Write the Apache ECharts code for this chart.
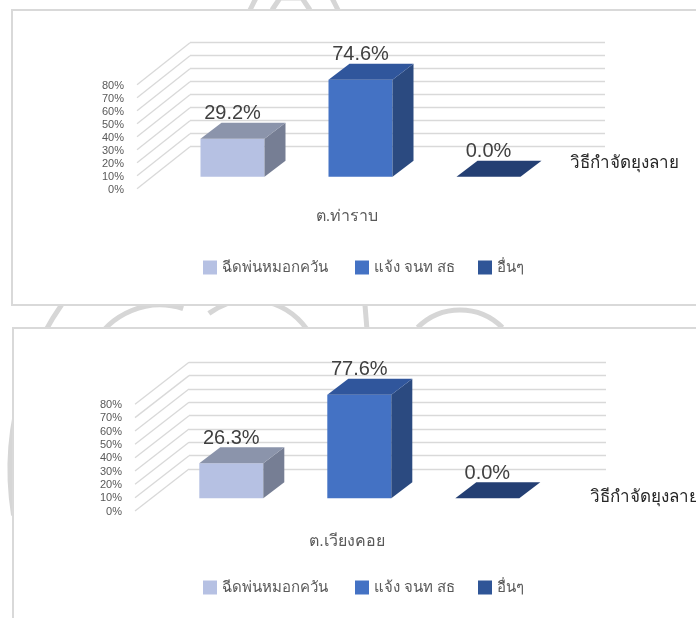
<!DOCTYPE html>
<html>
<head>
<meta charset="utf-8">
<script src="https://cdn.jsdelivr.net/npm/echarts@6/dist/echarts.min.js"></script>
<style>
  html, body { margin: 0; padding: 0; background: #ffffff; }
  #chart { width: 696px; height: 618px; }
</style>
</head>
<body>
<div id="chart"></div>
<script>
// Mosquito control methods, share of answers per sub-district (%)
const methods = ['ฉีดพ่นหมอกควัน', 'แจ้ง จนท สธ', 'อื่นๆ'];
const districts = ['ต.ท่าราบ', 'ต.เวียงคอย'];
const thaRapValues = [29.2, 74.6, 0.0];
const wiangKhoiValues = [26.3, 77.6, 0.0];
const depthAxisName = 'วิธีกำจัดยุงลาย';
const axisMin = 0, axisMax = 80, axisStep = 10;
const tickValues = [0, 10, 20, 30, 40, 50, 60, 70, 80];

// Face colours of each 3D column: front, top, side
const faceColors = [
  { front: '#b6c1e3', top: '#8b94ab', side: '#767e94' },
  { front: '#4472c4', top: '#30569c', side: '#2b4a80' },
  { front: '#2f5597', top: '#243f73', side: '#1f3763' }
];

const FONT = '"Liberation Sans", "Noto Sans", "DejaVu Sans", sans-serif';

// Layout of the two panels (pixels)
const panels = [
  {
    values: thaRapValues, name: districts[0],
    box: { x: 12, y: 10, w: 720, h: 295 },
    back: { left: 190, top: 42.7, width: 415, height: 104 },
    front: { left: 137, top: 86, height: 104 },
    bars: { left: 168.5, top: 72.7, width: 384, height: 104 },
    wallDepth: [-53, 42], barDepth: [21, -16],
    catLabel: [347, 217], depthLabel: [570, 163], legendTop: 260
  },
  {
    values: wiangKhoiValues, name: districts[1],
    box: { x: 13, y: 328, w: 720, h: 320 },
    back: { left: 189, top: 362.3, width: 417, height: 106.7 },
    front: { left: 135, top: 405, height: 106.7 },
    bars: { left: 167.3, top: 391.6, width: 384, height: 106.7 },
    wallDepth: [-54, 42], barDepth: [21, -16],
    catLabel: [347, 542], depthLabel: [590, 497], legendTop: 580
  }
];
// left edge of each legend entry (square marker)
const legendLefts = [203, 355, 478];

const grids = [], xAxes = [], yAxes = [], series = [], legends = [], graphics = [];

function valueAxis(gridIndex, extra) {
  return Object.assign({
    type: 'value', gridIndex, min: axisMin, max: axisMax, interval: axisStep,
    axisLine: { show: false }, axisTick: { show: false },
    axisLabel: { show: false }, splitLine: { show: false }
  }, extra || {});
}
function hiddenCategoryAxis(gridIndex) {
  return { type: 'category', gridIndex, data: methods, show: false };
}

panels.forEach((p, pi) => {
  const gBack = grids.length;
  grids.push({ left: p.back.left, top: p.back.top, width: p.back.width, height: p.back.height });
  const gFront = grids.length;
  grids.push({ left: p.front.left, top: p.front.top, width: p.back.width, height: p.front.height });
  const gBars = grids.length;
  grids.push({ left: p.bars.left, top: p.bars.top, width: p.bars.width, height: p.bars.height });

  // back wall: horizontal gridlines
  xAxes.push(hiddenCategoryAxis(gBack));
  yAxes.push(valueAxis(gBack, { splitLine: { show: true, lineStyle: { color: '#d9d9d9', width: 1.3 } } }));
  // front edge: tick labels
  xAxes.push(hiddenCategoryAxis(gFront));
  yAxes.push(valueAxis(gFront, {
    axisLabel: { show: true, formatter: '{value}%', color: '#595959', fontSize: 11, fontFamily: FONT, margin: 13 }
  }));
  // columns
  xAxes.push(hiddenCategoryAxis(gBars));
  yAxes.push(valueAxis(gBars));

  // floor-to-wall diagonal gridlines
  series.push({
    type: 'custom', xAxisIndex: gBack, yAxisIndex: gBack, silent: true, z: 1,
    data: tickValues.map(v => [0, v]),
    renderItem(params, api) {
      const pt = api.coord([0, api.value(1)]);
      const x = params.coordSys.x;
      return {
        type: 'line',
        shape: { x1: x, y1: pt[1], x2: x + p.wallDepth[0], y2: pt[1] + p.wallDepth[1] },
        style: { stroke: '#d9d9d9', lineWidth: 1.3 }
      };
    }
  });

  // one 3D column per method
  methods.forEach((m, mi) => {
    const c = faceColors[mi];
    series.push({
      type: 'custom', name: m, xAxisIndex: gBars, yAxisIndex: gBars, z: 3,
      itemStyle: { color: c.front },
      data: [[mi, p.values[mi]]],
      renderItem(params, api) {
        const v = api.value(1);
        const base = api.coord([api.value(0), 0]);
        const top = api.coord([api.value(0), v]);
        const w = api.size([1, 0])[0] * 0.5;
        const x0 = base[0] - w / 2, x1 = base[0] + w / 2;
        const yb = base[1], yt = top[1];
        const dx = p.barDepth[0], dy = p.barDepth[1];
        const children = [];
        if (yb - yt > 0.5) {
          children.push({ type: 'rect', shape: { x: x0, y: yt, width: w, height: yb - yt }, style: { fill: c.front } });
          children.push({ type: 'polygon', shape: { points: [[x1, yt], [x1 + dx, yt + dy], [x1 + dx, yb + dy], [x1, yb]] }, style: { fill: c.side } });
        }
        children.push({ type: 'polygon', shape: { points: [[x0, yt], [x1, yt], [x1 + dx, yt + dy], [x0 + dx, yt + dy]] }, style: { fill: c.top } });
        children.push({
          type: 'text', z2: 10,
          style: {
            text: v.toFixed(1) + '%', x: base[0], y: yt + dy - 9,
            align: 'center', verticalAlign: 'middle',
            fill: '#404040', font: '20px ' + FONT
          }
        });
        return { type: 'group', children };
      }
    });

    legends.push({
      left: legendLefts[mi], top: p.legendTop, padding: 0,
      itemWidth: 14, itemHeight: 14, icon: 'rect', selectedMode: false,
      data: [m],
      textStyle: { color: '#595959', fontSize: 15, fontFamily: FONT }
    });
  });

  graphics.push({
    type: 'rect', z: -5,
    shape: { x: p.box.x, y: p.box.y, width: p.box.w, height: p.box.h },
    style: { fill: '#ffffff', stroke: '#d9d9d9', lineWidth: 2 }
  });
  graphics.push({
    type: 'text', z: 5,
    x: p.catLabel[0], y: p.catLabel[1],
    style: { text: p.name, align: 'center', verticalAlign: 'middle', fill: '#595959', font: '16px ' + FONT }
  });
  graphics.push({
    type: 'text', z: 5,
    x: p.depthLabel[0], y: p.depthLabel[1],
    style: { text: depthAxisName, align: 'left', verticalAlign: 'middle', fill: '#262626', font: '17px ' + FONT }
  });
});

// faint seal printed behind the panels
const sealStroke = { stroke: '#d6d6d6', lineWidth: 5, fill: null };
graphics.unshift(
  { type: 'polyline', z: -10, shape: { points: [[250, 10], [256, -2]] }, style: sealStroke },
  { type: 'polyline', z: -10, shape: { points: [[272, 10], [280, -2], [302, -2], [310, 10]] }, style: sealStroke },
  { type: 'polyline', z: -10, shape: { points: [[338, 10], [332, -2]] }, style: sealStroke },
  { type: 'arc', z: -10, shape: { cx: 300, cy: 470, r: 290, startAngle: Math.PI * 0.95, endAngle: Math.PI * 1.25 }, style: sealStroke },
  { type: 'arc', z: -10, shape: { cx: 160, cy: 380, r: 75, startAngle: Math.PI * 1.15, endAngle: Math.PI * 1.6 }, style: sealStroke },
  { type: 'arc', z: -10, shape: { cx: 250, cy: 370, r: 70, startAngle: Math.PI * 1.3, endAngle: Math.PI * 1.8 }, style: sealStroke },
  { type: 'polyline', z: -10, shape: { points: [[365, 305], [367, 330]] }, style: sealStroke },
  { type: 'arc', z: -10, shape: { cx: 460, cy: 370, r: 60, startAngle: Math.PI * 1.25, endAngle: Math.PI * 1.75 }, style: sealStroke }
);

const chart = echarts.init(document.getElementById('chart'), null, { renderer: 'canvas' });
chart.setOption({
  animation: false,
  backgroundColor: '#ffffff',
  grid: grids,
  xAxis: xAxes,
  yAxis: yAxes,
  legend: legends,
  graphic: graphics,
  series
});
</script>
</body>
</html>
